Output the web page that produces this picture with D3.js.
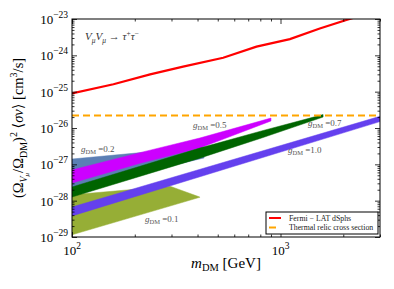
<!DOCTYPE html>
<html lang="en">

<head>
  <meta charset="utf-8">
  <title>Relic-weighted cross section</title>
  <script src="https://cdn.jsdelivr.net/npm/d3@7"></script>
  <style>
    body {
      margin: 0;
      background: #fff;
    }

    svg text {
      font-family: "Liberation Serif", "DejaVu Serif", serif;
    }

    .axis path {
      display: none;
    }

    .axis line {
      stroke: black;
      stroke-width: 0.8;
    }
  </style>
</head>

<body>
  <div id="chart"></div>
  <script>
    // data (mass in GeV, cross section in cm^3/s)
    const fermiMass = [100, 158, 237, 341, 531, 767, 1109, 1543, 2070, 3000]
    const fermiSigma = [9.0e-26, 1.6e-25, 3.0e-25, 4.9e-25, 8.6e-25, 1.73e-24, 2.8e-24, 5.5e-24, 9.4e-24, 1.8e-23]
    const thermalSigma = 2.2e-26

    // bands, one per coupling g_DM
    const g01Mass = [100, 295, 410]
    const g01Low = [1.15e-29, 7.1e-29, 1.24e-28]
    const g01High = [1.45e-28, 2.5e-28, 1.26e-28]

    const g02Mass = [100, 243, 430]
    const g02Low = [2.1e-28, 6.9e-28, 1.5e-27]
    const g02High = [1.4e-27, 2.25e-27, 3.0e-27]

    const g05Mass = [100, 212, 410, 900]
    const g05Low = [3.06e-28, 1.07e-27, 2.8e-27, 1.56e-26]
    const g05High = [7.0e-28, 2.1e-27, 5.3e-27, 1.88e-26]

    const g07Mass = [100, 410, 811, 1600]
    const g07Low = [1.26e-28, 1.48e-27, 5.3e-27, 2.0e-26]
    const g07High = [2.38e-28, 2.8e-27, 8.3e-27, 2.34e-26]

    const g10Mass = [100, 3000]
    const g10Low = [3.8e-29, 1.5e-26]
    const g10High = [6.7e-29, 2.1e-26]

    const xTickExp = [2, 3]
    const yTickExp = [-29, -28, -27, -26, -25, -24, -23]

    const width = 394
    const height = 289
    const margin = { left: 72, right: 14, top: 19, bottom: 52 }
    const plotW = width - margin.left - margin.right
    const plotH = height - margin.top - margin.bottom

    const x = d3.scaleLog().domain([100, 3000]).range([0, plotW])
    const y = d3.scaleLog().domain([1e-29, 1e-23]).range([plotH, 0])

    const svg = d3.select('#chart')
      .append('svg')
      .attr('width', width)
      .attr('height', height)

    const g = svg.append('g')
      .attr('transform', `translate(${margin.left},${margin.top})`)

    svg.append('defs').append('clipPath')
      .attr('id', 'plotClip')
      .append('rect')
      .attr('width', plotW)
      .attr('height', plotH)

    const plot = g.append('g').attr('clip-path', 'url(#plotClip)')

    // bands, drawn in coupling order
    const bands = [
      { mass: g01Mass, low: g01Low, high: g01High, color: '#96ae36' },
      { mass: g02Mass, low: g02Low, high: g02High, color: '#5b7fb4' },
      { mass: g05Mass, low: g05Low, high: g05High, color: '#cc00ff' },
      { mass: g07Mass, low: g07Low, high: g07High, color: '#006400' },
      { mass: g10Mass, low: g10Low, high: g10High, color: '#6440ee' }
    ]

    const area = d3.area()
      .x(d => x(d[0]))
      .y0(d => y(d[1]))
      .y1(d => y(d[2]))

    bands.forEach(b => {
      const rows = b.mass.map((m, i) => [m, b.low[i], b.high[i]])
      plot.append('path')
        .datum(rows)
        .attr('d', area)
        .attr('fill', b.color)
        .attr('stroke', b.color)
        .attr('stroke-width', 0.5)
    })

    // thermal relic line
    plot.append('line')
      .attr('x1', 0)
      .attr('x2', plotW)
      .attr('y1', y(thermalSigma))
      .attr('y2', y(thermalSigma))
      .attr('stroke', '#ffa500')
      .attr('stroke-width', 2)
      .attr('stroke-dasharray', '7,4')

    // Fermi-LAT limit
    const line = d3.line()
      .x(d => x(d[0]))
      .y(d => y(d[1]))

    plot.append('path')
      .datum(fermiMass.map((m, i) => [m, fermiSigma[i]]))
      .attr('d', line)
      .attr('fill', 'none')
      .attr('stroke', '#ff0000')
      .attr('stroke-width', 2.2)

    // ticks on all four sides, pointing inward
    const xMajor = xTickExp.map(e => Math.pow(10, e))
    const yMajor = yTickExp.map(e => Math.pow(10, e))
    const xMinor = x.ticks().filter(v => !xMajor.some(m => Math.abs(m - v) / m < 1e-6))
    const yMinor = y.ticks().filter(v => !yMajor.some(m => Math.abs(m - v) / m < 1e-6))

    const addAxis = (axisFn, scale, values, size, tr) => {
      g.append('g')
        .attr('class', 'axis')
        .attr('transform', tr)
        .call(axisFn(scale).tickValues(values).tickSize(size).tickFormat(''))
    }

    addAxis(d3.axisBottom, x, xMajor, -5, `translate(0,${plotH})`)
    addAxis(d3.axisBottom, x, xMinor, -2.5, `translate(0,${plotH})`)
    addAxis(d3.axisTop, x, xMajor, -5, 'translate(0,0)')
    addAxis(d3.axisTop, x, xMinor, -2.5, 'translate(0,0)')
    addAxis(d3.axisLeft, y, yMajor, -5, 'translate(0,0)')
    addAxis(d3.axisLeft, y, yMinor, -2.5, 'translate(0,0)')
    addAxis(d3.axisRight, y, yMajor, -5, `translate(${plotW},0)`)
    addAxis(d3.axisRight, y, yMinor, -2.5, `translate(${plotW},0)`)

    // frame
    g.append('rect')
      .attr('width', plotW)
      .attr('height', plotH)
      .attr('fill', 'none')
      .attr('stroke', 'black')
      .attr('stroke-width', 1)

    // tick labels as 10^n
    xTickExp.forEach(e => {
      const t = g.append('text')
        .attr('x', x(Math.pow(10, e)))
        .attr('y', plotH + 18)
        .attr('text-anchor', 'middle')
        .attr('font-size', 13)
      t.append('tspan').text('10')
      t.append('tspan').attr('dy', -6).attr('font-size', 9.5).text(e)
    })

    yTickExp.forEach(e => {
      const t = g.append('text')
        .attr('x', -4)
        .attr('y', y(Math.pow(10, e)) + 5)
        .attr('text-anchor', 'end')
        .attr('font-size', 13)
      t.append('tspan').text('10')
      t.append('tspan').attr('dy', -6).attr('font-size', 9.5).text('\u2212' + Math.abs(e))
    })

    // axis titles
    const xt = svg.append('text')
      .attr('x', margin.left + plotW / 2)
      .attr('y', 268)
      .attr('text-anchor', 'middle')
      .attr('font-size', 15)
    xt.append('tspan').attr('font-style', 'italic').text('m')
    xt.append('tspan').attr('dy', 3).attr('font-size', 10.5).text('DM')
    xt.append('tspan').attr('dy', -3).text(' [GeV]')

    const yt = svg.append('text')
      .attr('transform', `translate(23,${margin.top + plotH / 2}) rotate(-90)`)
      .attr('text-anchor', 'middle')
      .attr('font-size', 14.5)
    yt.append('tspan').text('(\u03A9')
    yt.append('tspan').attr('dy', 3.5).attr('font-size', 10).attr('font-style', 'italic').text('V')
    yt.append('tspan').attr('dy', 2).attr('font-size', 7).attr('font-style', 'italic').text('\u03BC')
    yt.append('tspan').attr('dy', -5.5).text('/\u03A9')
    yt.append('tspan').attr('dy', 3.5).attr('font-size', 10).text('DM')
    yt.append('tspan').attr('dy', -3.5).text(')')
    yt.append('tspan').attr('dy', -6).attr('font-size', 10).text('2')
    yt.append('tspan').attr('dy', 6).text(' \u27E8')
    yt.append('tspan').attr('font-style', 'italic').text('\u03C3v')
    yt.append('tspan').text('\u27E9 [cm')
    yt.append('tspan').attr('dy', -6).attr('font-size', 10).text('3')
    yt.append('tspan').attr('dy', 6).text('/s]')

    // process annotation
    const an = svg.append('text')
      .attr('x', 85)
      .attr('y', 40)
      .attr('font-size', 11)
      .attr('fill', '#333')
      .attr('font-style', 'italic')
    an.append('tspan').text('V')
    an.append('tspan').attr('dy', 2.5).attr('font-size', 7.5).text('\u03BC')
    an.append('tspan').attr('dy', -2.5).text('V')
    an.append('tspan').attr('dy', 2.5).attr('font-size', 7.5).text('\u03BC')
    an.append('tspan').attr('dy', -2.5).attr('font-style', 'normal').text(' \u2192 ')
    an.append('tspan').text('\u03C4')
    an.append('tspan').attr('dy', -4).attr('font-size', 7.5).attr('font-style', 'normal').text('+')
    an.append('tspan').attr('dy', 4).text('\u03C4')
    an.append('tspan').attr('dy', -4).attr('font-size', 7.5).attr('font-style', 'normal').text('\u2212')

    // coupling labels
    const gLabels = [
      { text: '0.2', px: 81, py: 152 },
      { text: '0.5', px: 193, py: 128 },
      { text: '0.7', px: 308, py: 126 },
      { text: '1.0', px: 288, py: 153 },
      { text: '0.1', px: 145, py: 222 }
    ]
    gLabels.forEach(d => {
      const t = svg.append('text')
        .attr('x', d.px)
        .attr('y', d.py)
        .attr('font-size', 9)
        .attr('fill', '#555')
      t.append('tspan').attr('font-style', 'italic').text('g')
      t.append('tspan').attr('dy', 2).attr('font-size', 6.5).text('DM')
      t.append('tspan').attr('dy', -2).text(' =' + d.text)
    })

    // legend
    const lg = svg.append('g').attr('transform', 'translate(266,212)')
    lg.append('rect')
      .attr('width', 112)
      .attr('height', 22)
      .attr('fill', 'white')
      .attr('stroke', 'black')
      .attr('stroke-width', 1)
    lg.append('line')
      .attr('x1', 3).attr('x2', 15).attr('y1', 6).attr('y2', 6)
      .attr('stroke', '#ff0000').attr('stroke-width', 2)
    lg.append('line')
      .attr('x1', 3).attr('x2', 10).attr('y1', 15.5).attr('y2', 15.5)
      .attr('stroke', '#ffa500').attr('stroke-width', 2)
    lg.append('text')
      .attr('x', 23).attr('y', 8.5).attr('font-size', 7.8).attr('fill', '#222')
      .text('Fermi \u2212 LAT dSphs')
    lg.append('text')
      .attr('x', 23).attr('y', 18).attr('font-size', 7.8).attr('fill', '#222')
      .text('Thermal relic cross section')
  </script>
</body>

</html>
